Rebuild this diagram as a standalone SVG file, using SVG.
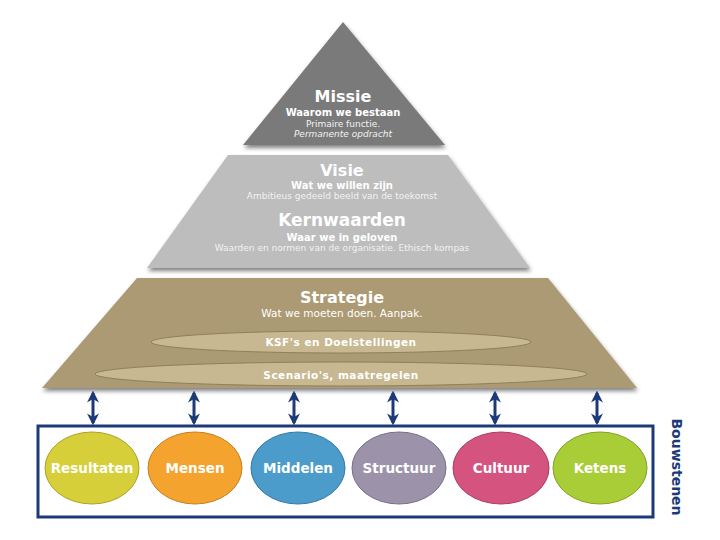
<svg xmlns="http://www.w3.org/2000/svg" width="720" height="540" viewBox="0 0 720 540">
<defs>
<filter id="sh" x="-10%" y="-10%" width="120%" height="130%">
<feGaussianBlur in="SourceAlpha" stdDeviation="2"/>
<feOffset dx="1" dy="3"/>
<feComponentTransfer><feFuncA type="linear" slope="0.5"/></feComponentTransfer>
<feMerge><feMergeNode/><feMergeNode in="SourceGraphic"/></feMerge>
</filter>
<marker id="ah" viewBox="0 0 10 10" refX="8" refY="5" markerWidth="4" markerHeight="4" orient="auto-start-reverse">
<path d="M0,0 L10,5 L0,10 L3,5 Z" fill="#1d3a78"/>
</marker>
</defs>
<style>
text{font-family:"DejaVu Sans","Liberation Sans",sans-serif;fill:#fff;text-anchor:middle}
.h{font-weight:bold;font-size:16px}
.s{font-weight:bold;font-size:10px}
.t{font-size:9px;fill:#f2f2f2}
.tan{font-weight:bold;font-size:10.5px;letter-spacing:0.5px}
.b{font-weight:bold;font-size:13.5px}
.arr{stroke:#1d3a78;stroke-width:3;fill:none;marker-start:url(#ah);marker-end:url(#ah)}
</style>
<rect width="720" height="540" fill="#fff"/>
<g id="missie">
<polygon points="343,22 445,145 243,145" fill="#7a7a7a" filter="url(#sh)"/>
<text x="343" y="102" class="h">Missie</text>
<text x="343" y="116" class="s">Waarom we  bestaan</text>
<text x="343" y="127" class="t">Primaire functie.</text>
<text x="343" y="137" class="t" font-style="italic">Permanente opdracht</text>
</g>
<g id="visie">
<polygon points="228,155 448,155 530,268 147,268" fill="#bdbdbd" filter="url(#sh)"/>
<text x="342" y="176" class="h">Visie</text>
<text x="342" y="189" class="s">Wat we willen zijn</text>
<text x="342" y="199" class="t">Ambitieus gedeeld beeld van de toekomst</text>
<text x="342" y="226" class="h" style="font-size:17px">Kernwaarden</text>
<text x="342" y="241" class="s">Waar we in geloven</text>
<text x="342" y="251" class="t">Waarden en normen van de organisatie. Ethisch kompas</text>
</g>
<g id="strategie">
<polygon points="137,278 548,278 637,388 42,388" fill="#ab9a73" filter="url(#sh)"/>
<text x="342" y="303" class="h">Strategie</text>
<text x="342" y="317" style="font-size:10.5px">Wat we moeten doen. Aanpak.</text>
<ellipse cx="341" cy="342" rx="190" ry="11" fill="#c7b891" stroke="#8f7f5b" stroke-width="1"/>
<text x="341" y="346" class="tan">KSF's en Doelstellingen</text>
<ellipse cx="341" cy="374" rx="246" ry="12" fill="#c7b891" stroke="#8f7f5b" stroke-width="1"/>
<text x="341" y="379" class="tan">Scenario's, maatregelen</text>
</g>
<g id="connectors">
<line x1="93" y1="393" x2="93" y2="423" class="arr"/>
<line x1="194" y1="393" x2="194" y2="423" class="arr"/>
<line x1="294" y1="393" x2="294" y2="423" class="arr"/>
<line x1="393" y1="393" x2="393" y2="423" class="arr"/>
<line x1="495" y1="393" x2="495" y2="423" class="arr"/>
<line x1="597" y1="393" x2="597" y2="423" class="arr"/>
</g>
<g id="bouwstenen">
<rect x="38" y="426" width="615" height="91" fill="none" stroke="#1d3a78" stroke-width="3"/>
<text transform="translate(672,467) rotate(90)" style="fill:#1d3a78;font-weight:bold;font-size:14px">Bouwstenen</text>
</g>
<g id="resultaten">
<ellipse cx="92" cy="468" rx="47" ry="36" fill="#d6cf3a" stroke="#a9a32c"/>
<text x="92" y="473" class="b">Resultaten</text>
</g>
<g id="mensen">
<ellipse cx="195" cy="468" rx="47" ry="36" fill="#f5a32f" stroke="#c57f20"/>
<text x="195" y="473" class="b">Mensen</text>
</g>
<g id="middelen">
<ellipse cx="298" cy="468" rx="47" ry="36" fill="#4b9ccb" stroke="#3679a2"/>
<text x="298" y="473" class="b">Middelen</text>
</g>
<g id="structuur">
<ellipse cx="399" cy="468" rx="47" ry="36" fill="#9c92aa" stroke="#776f85"/>
<text x="399" y="473" class="b">Structuur</text>
</g>
<g id="cultuur">
<ellipse cx="501" cy="468" rx="48" ry="36" fill="#d5537f" stroke="#a83e62"/>
<text x="501" y="473" class="b">Cultuur</text>
</g>
<g id="ketens">
<ellipse cx="600" cy="468" rx="47" ry="36" fill="#a9cd36" stroke="#82a028"/>
<text x="600" y="473" class="b">Ketens</text>
</g>
</svg>
